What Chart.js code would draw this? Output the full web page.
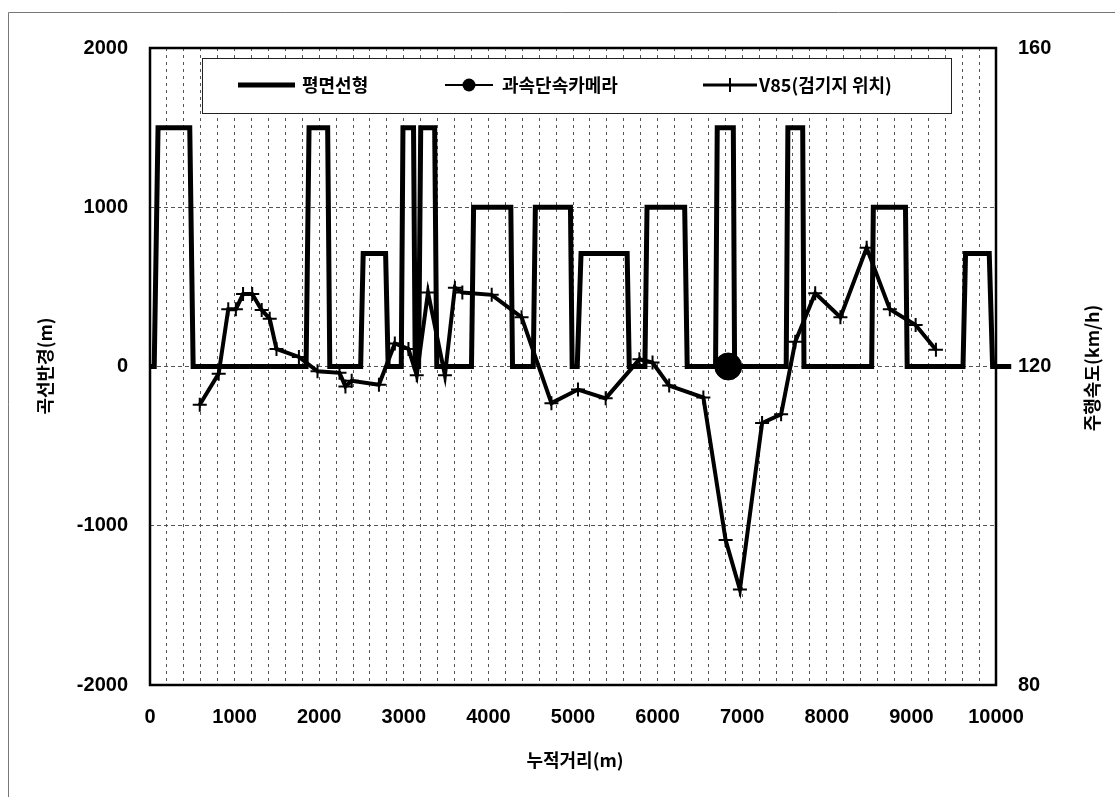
<!DOCTYPE html>
<html>
<head>
<meta charset="utf-8">
<script src="https://cdn.jsdelivr.net/npm/chart.js@4.4.1/dist/chart.umd.min.js"></script>
<style>
  html, body { margin: 0; padding: 0; background: #ffffff; }
  canvas { display: block; }
</style>
</head>
<body>
<canvas id="c" width="1115" height="798"></canvas>
<script>
// ---- Data ----
// 평면선형 (curve radius, m) : cumulative distance / radius
const alignX = [0, 50, 95, 470, 510,
  1845, 1880, 2100, 2125,
  2490, 2520, 2785, 2815,
  2970, 2990, 3115, 3135,
  3175, 3200, 3365, 3390,
  3800, 3825, 4265, 4285,
  4530, 4555, 4970, 4990,
  5050, 5095, 5640, 5665,
  5850, 5875, 6320, 6350,
  6685, 6705, 6895, 6910,
  7520, 7540, 7715, 7730,
  8530, 8550, 8930, 8950,
  9610, 9640, 9920, 9960, 10180];
const alignR = [0, 0, 1500, 1500, 0,
  0, 1500, 1500, 0,
  0, 710, 710, 0,
  0, 1500, 1500, 0,
  0, 1500, 1500, 0,
  0, 1000, 1000, 0,
  0, 1000, 1000, 0,
  0, 710, 710, 0,
  0, 1000, 1000, 0,
  0, 1500, 1500, 0,
  0, 1500, 1500, 0,
  0, 1000, 1000, 0,
  0, 710, 710, 0, 0];

// 과속단속카메라 (speed enforcement camera)
const cameraX = [6835];
const cameraR = [0];

// V85 (검기지 위치) : distance / operating speed (km/h)
const v85X = [588, 812, 925, 1015, 1100, 1208, 1320, 1415, 1495, 1760, 1980, 2240,
  2310, 2384, 2706, 2894, 3055, 3153, 3286, 3486, 3604, 3692, 4039, 4392,
  4745, 5059, 5386, 5785, 5940, 6137, 6541, 6804, 6973, 7235, 7460, 7627,
  7863, 8161, 8471, 8745, 9050, 9290];
const v85S = [115.2, 119.1, 127.2, 127.2, 129.1, 129.1, 127.1, 126.0, 122.2, 121.2, 119.4, 119.2,
  117.5, 118.2, 117.7, 122.9, 122.2, 118.9, 129.3, 118.9, 129.9, 129.3, 129.0, 126.2,
  115.4, 117.1, 116.0, 120.9, 120.5, 117.6, 116.1, 98.2, 92.0, 112.9, 114.0, 123.1,
  129.2, 126.2, 134.9, 127.2, 125.2, 122.1];

// Tick labels / titles
const xTitle = '누적거리(m)';
const yLeftTitle = '곡선반경(m)';
const yRightTitle = '주행속도(km/h)';
const seriesNames = ['평면선형', '과속단속카메라', 'V85(검기지 위치)'];

// ---- Styling ----
const NUM_FONT = "'Liberation Sans Narrow','Arial Narrow','Liberation Sans',Arial,sans-serif";
const KR_FONT = "'Noto Sans CJK KR','Noto Sans CJK SC',sans-serif";

const toPts = (xs, ys) => xs.map((x, i) => ({ x: x, y: ys[i] }));

const decor = {
  id: 'decor',
  beforeDraw(chart) {
    const c = chart.ctx;
    c.save();
    c.fillStyle = '#ffffff';
    c.fillRect(0, 0, chart.width, chart.height);
    // outer border (top & left visible)
    c.strokeStyle = '#777';
    c.lineWidth = 1;
    c.beginPath();
    c.moveTo(8.5, 797);
    c.lineTo(8.5, 12.5);
    c.lineTo(1115, 12.5);
    c.stroke();
    c.restore();
  },
  beforeDatasetsDraw(chart) {
    const a = chart.chartArea;
    const c = chart.ctx;
    c.save();
    c.strokeStyle = '#000';
    c.lineWidth = 2.5;
    c.strokeRect(a.left, a.top, a.right - a.left, a.bottom - a.top);
    c.restore();
  },
  afterDatasetsDraw(chart) {
    const c = chart.ctx;
    c.save();
    // legend box
    const lx = 202, ly = 58, lw = 749, lh = 55;
    c.fillStyle = '#fff';
    c.fillRect(lx, ly, lw, lh);
    c.strokeStyle = '#222';
    c.lineWidth = 1;
    c.strokeRect(lx + 0.5, ly + 0.5, lw, lh);
    const cy = 85;
    c.strokeStyle = '#000';
    c.fillStyle = '#000';
    // item 1
    c.lineWidth = 5;
    c.beginPath(); c.moveTo(238, cy); c.lineTo(295, cy); c.stroke();
    // item 2
    c.lineWidth = 2;
    c.beginPath(); c.moveTo(445, cy); c.lineTo(493, cy); c.stroke();
    c.beginPath(); c.arc(469, cy, 6.5, 0, Math.PI * 2); c.fill();
    // item 3
    c.lineWidth = 3;
    c.beginPath(); c.moveTo(703, cy); c.lineTo(757, cy); c.stroke();
    c.lineWidth = 2;
    c.beginPath(); c.moveTo(730, cy - 7); c.lineTo(730, cy + 7); c.stroke();
    c.font = "bold 18px " + KR_FONT;
    c.textBaseline = 'middle';
    c.textAlign = 'left';
    c.fillText(seriesNames[0], 302, cy);
    c.fillText(seriesNames[1], 502, cy);
    c.fillText(seriesNames[2], 759, cy);

    // axis titles
    c.font = "bold 18px " + KR_FONT;
    c.textAlign = 'center';
    c.textBaseline = 'middle';
    c.fillText(xTitle, 575, 760);
    c.save();
    c.translate(45, 366);
    c.rotate(-Math.PI / 2);
    c.fillText(yLeftTitle, 0, 0);
    c.restore();
    c.save();
    c.translate(1092, 368);
    c.rotate(-Math.PI / 2);
    c.fillText(yRightTitle, 0, 0);
    c.restore();
    c.restore();
  }
};

new Chart(document.getElementById('c').getContext('2d'), {
  type: 'line',
  data: {
    datasets: [
      {
        label: seriesNames[0],
        data: toPts(alignX, alignR),
        yAxisID: 'y',
        borderColor: '#000',
        backgroundColor: '#000',
        borderWidth: 5,
        borderJoinStyle: 'miter',
        pointRadius: 0,
        tension: 0,
        fill: false,
        clip: { left: 0, top: 0, right: 20, bottom: 0 }
      },
      {
        label: seriesNames[1],
        data: toPts(cameraX, cameraR),
        yAxisID: 'y',
        showLine: false,
        pointStyle: 'circle',
        pointRadius: 13.5,
        pointBackgroundColor: '#000',
        pointBorderColor: '#000',
        borderColor: '#000'
      },
      {
        label: seriesNames[2],
        data: toPts(v85X, v85S),
        yAxisID: 'y1',
        borderColor: '#000',
        backgroundColor: '#000',
        borderWidth: 4,
        tension: 0,
        fill: false,
        pointStyle: 'cross',
        pointRadius: 7,
        pointBorderWidth: 2,
        pointBorderColor: '#000'
      }
    ]
  },
  options: {
    responsive: false,
    animation: false,
    events: [],
    layout: { padding: { top: 48, left: 0, right: 0, bottom: 0 } },
    plugins: { legend: { display: false }, tooltip: { enabled: false }, title: { display: false } },
    scales: {
      x: {
        type: 'linear',
        min: 0, max: 10000,
        ticks: {
          stepSize: 200,
          autoSkip: false,
          maxRotation: 0,
          padding: 20,
          color: '#000',
          font: { family: NUM_FONT, size: 20, weight: 'bold' },
          callback: (v) => (v % 1000 === 0 ? String(v) : '')
        },
        grid: { color: '#555', lineWidth: 1, drawTicks: false },
        border: { display: false, dash: [3, 4] },
        afterFit: (s) => { s.height = 113; }
      },
      y: {
        position: 'left',
        min: -2000, max: 2000,
        ticks: {
          stepSize: 1000,
          padding: 22,
          color: '#000',
          font: { family: NUM_FONT, size: 20, weight: 'bold' },
          callback: (v) => String(v)
        },
        grid: { color: '#555', lineWidth: 1, drawTicks: false },
        border: { display: false, dash: [4, 3] },
        afterFit: (s) => { s.width = 150; }
      },
      y1: {
        position: 'right',
        min: 80, max: 160,
        ticks: {
          stepSize: 40,
          padding: 22,
          color: '#000',
          font: { family: NUM_FONT, size: 20, weight: 'bold' },
          callback: (v) => String(v)
        },
        grid: { display: false, drawTicks: false },
        border: { display: false },
        afterFit: (s) => { s.width = 119; }
      }
    }
  },
  plugins: [decor]
});
</script>
</body>
</html>
